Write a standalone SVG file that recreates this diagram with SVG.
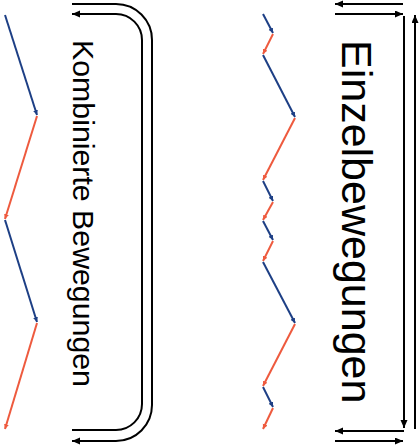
<svg xmlns="http://www.w3.org/2000/svg" width="420" height="447" viewBox="0 0 420 447">
<style>
.blk{fill:none;stroke:#000;stroke-width:2}
.bl{fill:none;stroke:#1d3f85;stroke-width:2;marker-end:url(#ab)}
.rd{fill:none;stroke:#ee5a3e;stroke-width:2;marker-end:url(#ar)}
.lbl{font-family:"Liberation Sans",Arial,sans-serif;fill:#000}
</style>
<defs>
<marker id="ak" markerUnits="userSpaceOnUse" markerWidth="9" markerHeight="8" refX="8" refY="3.5" orient="auto"><path d="M0,0 L8,3.5 L0,7 z" fill="#000"/></marker>
<marker id="ab" markerUnits="userSpaceOnUse" markerWidth="6" markerHeight="6" refX="5" refY="2.5" orient="auto"><path d="M0,0 L5,2.5 L0,5 z" fill="#1d3f85"/></marker>
<marker id="ar" markerUnits="userSpaceOnUse" markerWidth="6" markerHeight="6" refX="5" refY="2.5" orient="auto"><path d="M0,0 L5,2.5 L0,5 z" fill="#ee5a3e"/></marker>
</defs>
<rect width="420" height="447" fill="#fff"/>
<g id="zigzag-left">
<path class="bl" d="M5,15 L37,115"/>
<path class="rd" d="M37,116 L5,219"/>
<path class="bl" d="M5,220 L37,322"/>
<path class="rd" d="M37,323 L5,429"/>
</g>
<g id="zigzag-right">
<path class="bl" d="M263,14 L273,33"/>
<path class="rd" d="M273,34 L263,54"/>
<path class="bl" d="M263,55 L295,117"/>
<path class="rd" d="M295,118 L263,180"/>
<path class="bl" d="M263,181 L273,201"/>
<path class="rd" d="M273,202 L263,220"/>
<path class="bl" d="M263,221 L273,240"/>
<path class="rd" d="M273,241 L263,261"/>
<path class="bl" d="M263,262 L295,323"/>
<path class="rd" d="M295,324 L263,386"/>
<path class="bl" d="M263,387 L273,407"/>
<path class="rd" d="M273,408 L263,429"/>
</g>
<g id="connectors">
<path class="blk" stroke-width="2.3" d="M72,4 H116 A36,36 0 0 1 152,40 V405 A36,36 0 0 1 116,441 H72" marker-end="url(#ak)"/>
<path class="blk" stroke-width="2.3" d="M72,430 H116 A26,26 0 0 0 142,404 V40 A26,26 0 0 0 116,14 H72" marker-end="url(#ak)" style="marker-end:url(#ak)"/>
<path class="blk" d="M403,4 H335" marker-end="url(#ak)"/>
<path class="blk" d="M335,14 H403" marker-end="url(#ak)"/>
<path class="blk" d="M404,16 V428" marker-end="url(#ak)"/>
<path class="blk" d="M404,431 H335" marker-end="url(#ak)"/>
<path class="blk" d="M335,441 H403" marker-end="url(#ak)"/>
<path class="blk" d="M415,429 V15" marker-end="url(#ak)"/>
</g>
<g id="label-kombiniert">
<text class="lbl" font-size="30.3" transform="translate(73,40) rotate(90)">Kombinierte Bewegungen</text>
</g>
<g id="label-einzel">
<text class="lbl" font-size="43" transform="translate(342,40) rotate(90)">Einzelbewegungen</text>
</g>
</svg>
